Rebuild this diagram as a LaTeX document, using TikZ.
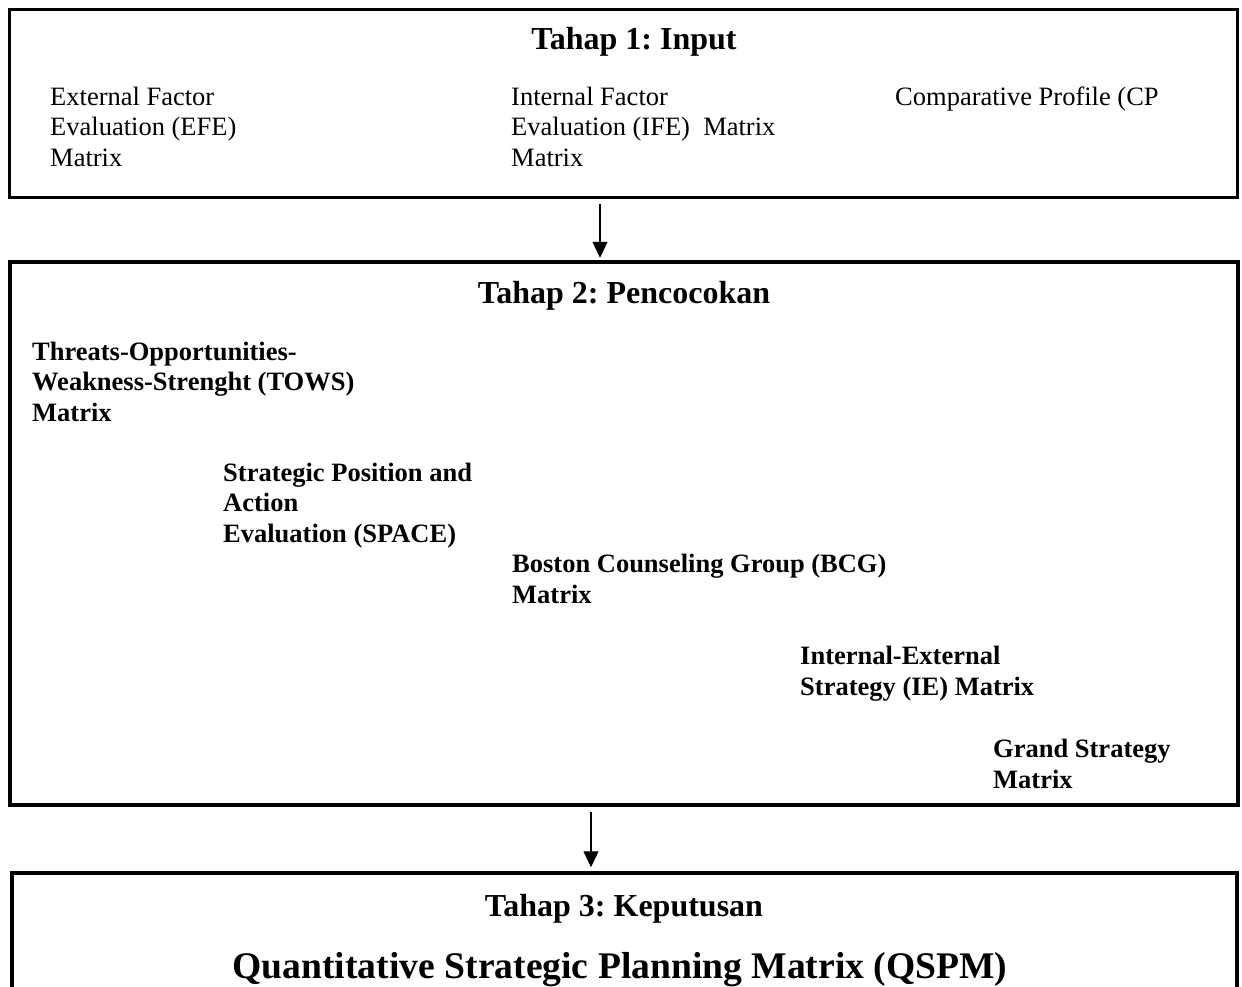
\documentclass[tikz,border=0pt]{standalone}
\usepackage{fontspec}
\setmainfont{Liberation Serif}
\usetikzlibrary{arrows.meta}
\frenchspacing
\begin{document}
\begin{tikzpicture}[x=1pt,y=-1pt,
  stagebox/.style={draw=black, rectangle, inner sep=0pt},
  stagetitle/.style={font=\fontsize{32}{38}\selectfont\bfseries, inner sep=0pt, anchor=base},
  plain/.style={font=\fontsize{26.5}{30.5}\selectfont, align=left, inner sep=0pt, anchor=base west},
  strong/.style={plain, font=\fontsize{26.5}{30.5}\selectfont\bfseries},
  flow/.style={line width=1.2pt, -{Triangle[width=15pt,length=16pt]}}]
\useasboundingbox (0,0) rectangle (1242,986);
\clip (0,0) rectangle (1242,986);

% the three stage frames
\node[stagebox, line width=3pt, minimum width=1228pt, minimum height=187.5pt] (inputbox) at (623.5,103.25) {};
\node[stagebox, line width=4.5pt, minimum width=1228pt, minimum height=543pt] (matchbox) at (624,533.5) {};
\node[stagebox, line width=4.5pt, minimum width=1225pt, minimum height=137pt] (decidebox) at (624.5,941.5) {};

% stage 1 (text nodes sit on the baseline of their last line)
\node[stagetitle] (title1) at (634,49) {Tahap 1: Input};
\node[plain] (efe) at (50,166) {External Factor\\Evaluation (EFE)\\Matrix};
\node[plain] (ife) at (511,166) {Internal Factor\\Evaluation (IFE)~~Matrix\\Matrix};
\node[plain] (cpm) at (895,105) {Comparative Profile (CP};

% stage 2
\node[stagetitle] (title2) at (624,303) {Tahap 2: Pencocokan};
\node[strong] (tows) at (32,421) {Threats-Opportunities-\\Weakness-Strenght (TOWS)\\Matrix};
\node[strong] (space) at (223,542) {Strategic Position and\\Action\\Evaluation (SPACE)};
\node[strong] (bcg) at (512,603) {Boston Counseling Group (BCG)\\Matrix};
\node[strong] (iem) at (800,695) {Internal-External\\Strategy (IE) Matrix};
\node[strong] (gsm) at (993,788) {Grand Strategy\\Matrix};

% stage 3
\node[stagetitle] (title3) at (624,916) {Tahap 3: Keputusan};
\node[stagetitle, font=\fontsize{37.6}{44}\selectfont\bfseries] (qspm) at (620,978) {Quantitative Strategic Planning Matrix (QSPM)};

% flow between stages
\draw[flow, shorten >=2pt] ([xshift=-23.5pt,yshift=-5.5pt]inputbox.south) -- ([xshift=-24pt]matchbox.north);
\draw[flow, shorten >=3.5pt] ([xshift=-33pt,yshift=-4.75pt]matchbox.south) -- ([xshift=-33.5pt]decidebox.north);
\end{tikzpicture}
\end{document}
